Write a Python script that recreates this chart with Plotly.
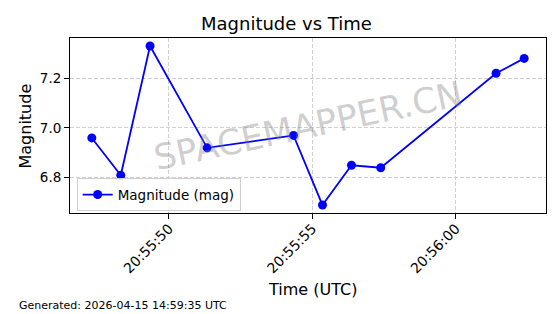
import plotly.graph_objects as go

times = [
    "2026-04-15 20:55:47.31", "2026-04-15 20:55:48.32", "2026-04-15 20:55:49.34",
    "2026-04-15 20:55:51.33", "2026-04-15 20:55:54.34", "2026-04-15 20:55:55.35",
    "2026-04-15 20:55:56.36", "2026-04-15 20:55:57.38", "2026-04-15 20:56:01.40",
    "2026-04-15 20:56:02.38",
]
magnitudes = [6.96, 6.81, 7.33, 6.92, 6.97, 6.69, 6.85, 6.84, 7.22, 7.28]
y_ticks = [6.8, 7.0, 7.2]
x_ticks = ["2026-04-15 20:55:50", "2026-04-15 20:55:55", "2026-04-15 20:56:00"]
x_tick_labels = ["20:55:50", "20:55:55", "20:56:00"]

FONT = "DejaVu Sans"

fig = go.Figure()
fig.add_trace(go.Scatter(
    x=times, y=magnitudes, mode="lines+markers", name="Magnitude (mag)",
    line=dict(color="#0000ff", width=1.8),
    marker=dict(color="#0000ff", size=9),
))

fig.update_layout(
    width=560, height=314,
    margin=dict(l=70, r=14, t=38, b=101),
    paper_bgcolor="white", plot_bgcolor="white",
    font=dict(family=FONT, color="black", size=13),
    showlegend=True,
    legend=dict(x=0.014, y=0.01, xanchor="left", yanchor="bottom",
                bordercolor="#d0d0d0", borderwidth=1,
                bgcolor="rgba(255,255,255,0.8)",
                font=dict(family=FONT, size=13.5)),
)

fig.update_xaxes(
    type="date",
    range=["2026-04-15 20:55:46.55", "2026-04-15 20:56:03.14"],
    tickvals=x_ticks, ticktext=x_tick_labels, tickangle=-45,
    tickfont=dict(size=14), ticklabelstandoff=-4,
    showline=True, linecolor="black", linewidth=1, mirror=True,
    ticks="outside", ticklen=5, tickcolor="black",
    showgrid=True, gridcolor="#d0d0d0", griddash="4px,2px", gridwidth=1,
    zeroline=False,
)
fig.update_yaxes(
    range=[6.658, 7.362],
    tickvals=y_ticks, ticktext=[f"{v:.1f}" for v in y_ticks],
    tickfont=dict(size=13.5),
    showline=True, linecolor="black", linewidth=1, mirror=True,
    ticks="outside", ticklen=5, tickcolor="black",
    showgrid=True, gridcolor="#d0d0d0", griddash="4px,2px", gridwidth=1,
    zeroline=False,
)

# Title
fig.add_annotation(text="Magnitude vs Time", xref="paper", yref="paper",
                   x=(286.5 - 70) / 476, y=(213 - 23) / 175,
                   xanchor="center", yanchor="middle", showarrow=False,
                   font=dict(family=FONT, size=18, color="black"))
# Axis labels
fig.add_annotation(text="Time (UTC)", xref="paper", yref="paper",
                   x=(312 - 70) / 476, y=(213 - 289) / 175,
                   xanchor="center", yanchor="middle", showarrow=False,
                   font=dict(family=FONT, size=16, color="black"))
fig.add_annotation(text="Magnitude", xref="paper", yref="paper",
                   x=(25 - 70) / 476, y=(213 - 126.5) / 175, textangle=-90,
                   xanchor="center", yanchor="middle", showarrow=False,
                   font=dict(family=FONT, size=16, color="black"))
# Footer
fig.add_annotation(text="Generated: 2026-04-15 14:59:35 UTC", xref="paper", yref="paper",
                   x=(17 - 70) / 476, y=(213 - 305) / 175,
                   xanchor="left", yanchor="middle", showarrow=False,
                   font=dict(family=FONT, size=11, color="black"))
# Watermark
fig.add_annotation(text="SPACEMAPPER.CN", xref="paper", yref="paper",
                   x=0.5, y=0.5, xanchor="center", yanchor="middle",
                   textangle=-12, showarrow=False,
                   font=dict(family=FONT, size=35, color="rgba(128,128,128,0.38)"))

fig.write_html("out.html")
